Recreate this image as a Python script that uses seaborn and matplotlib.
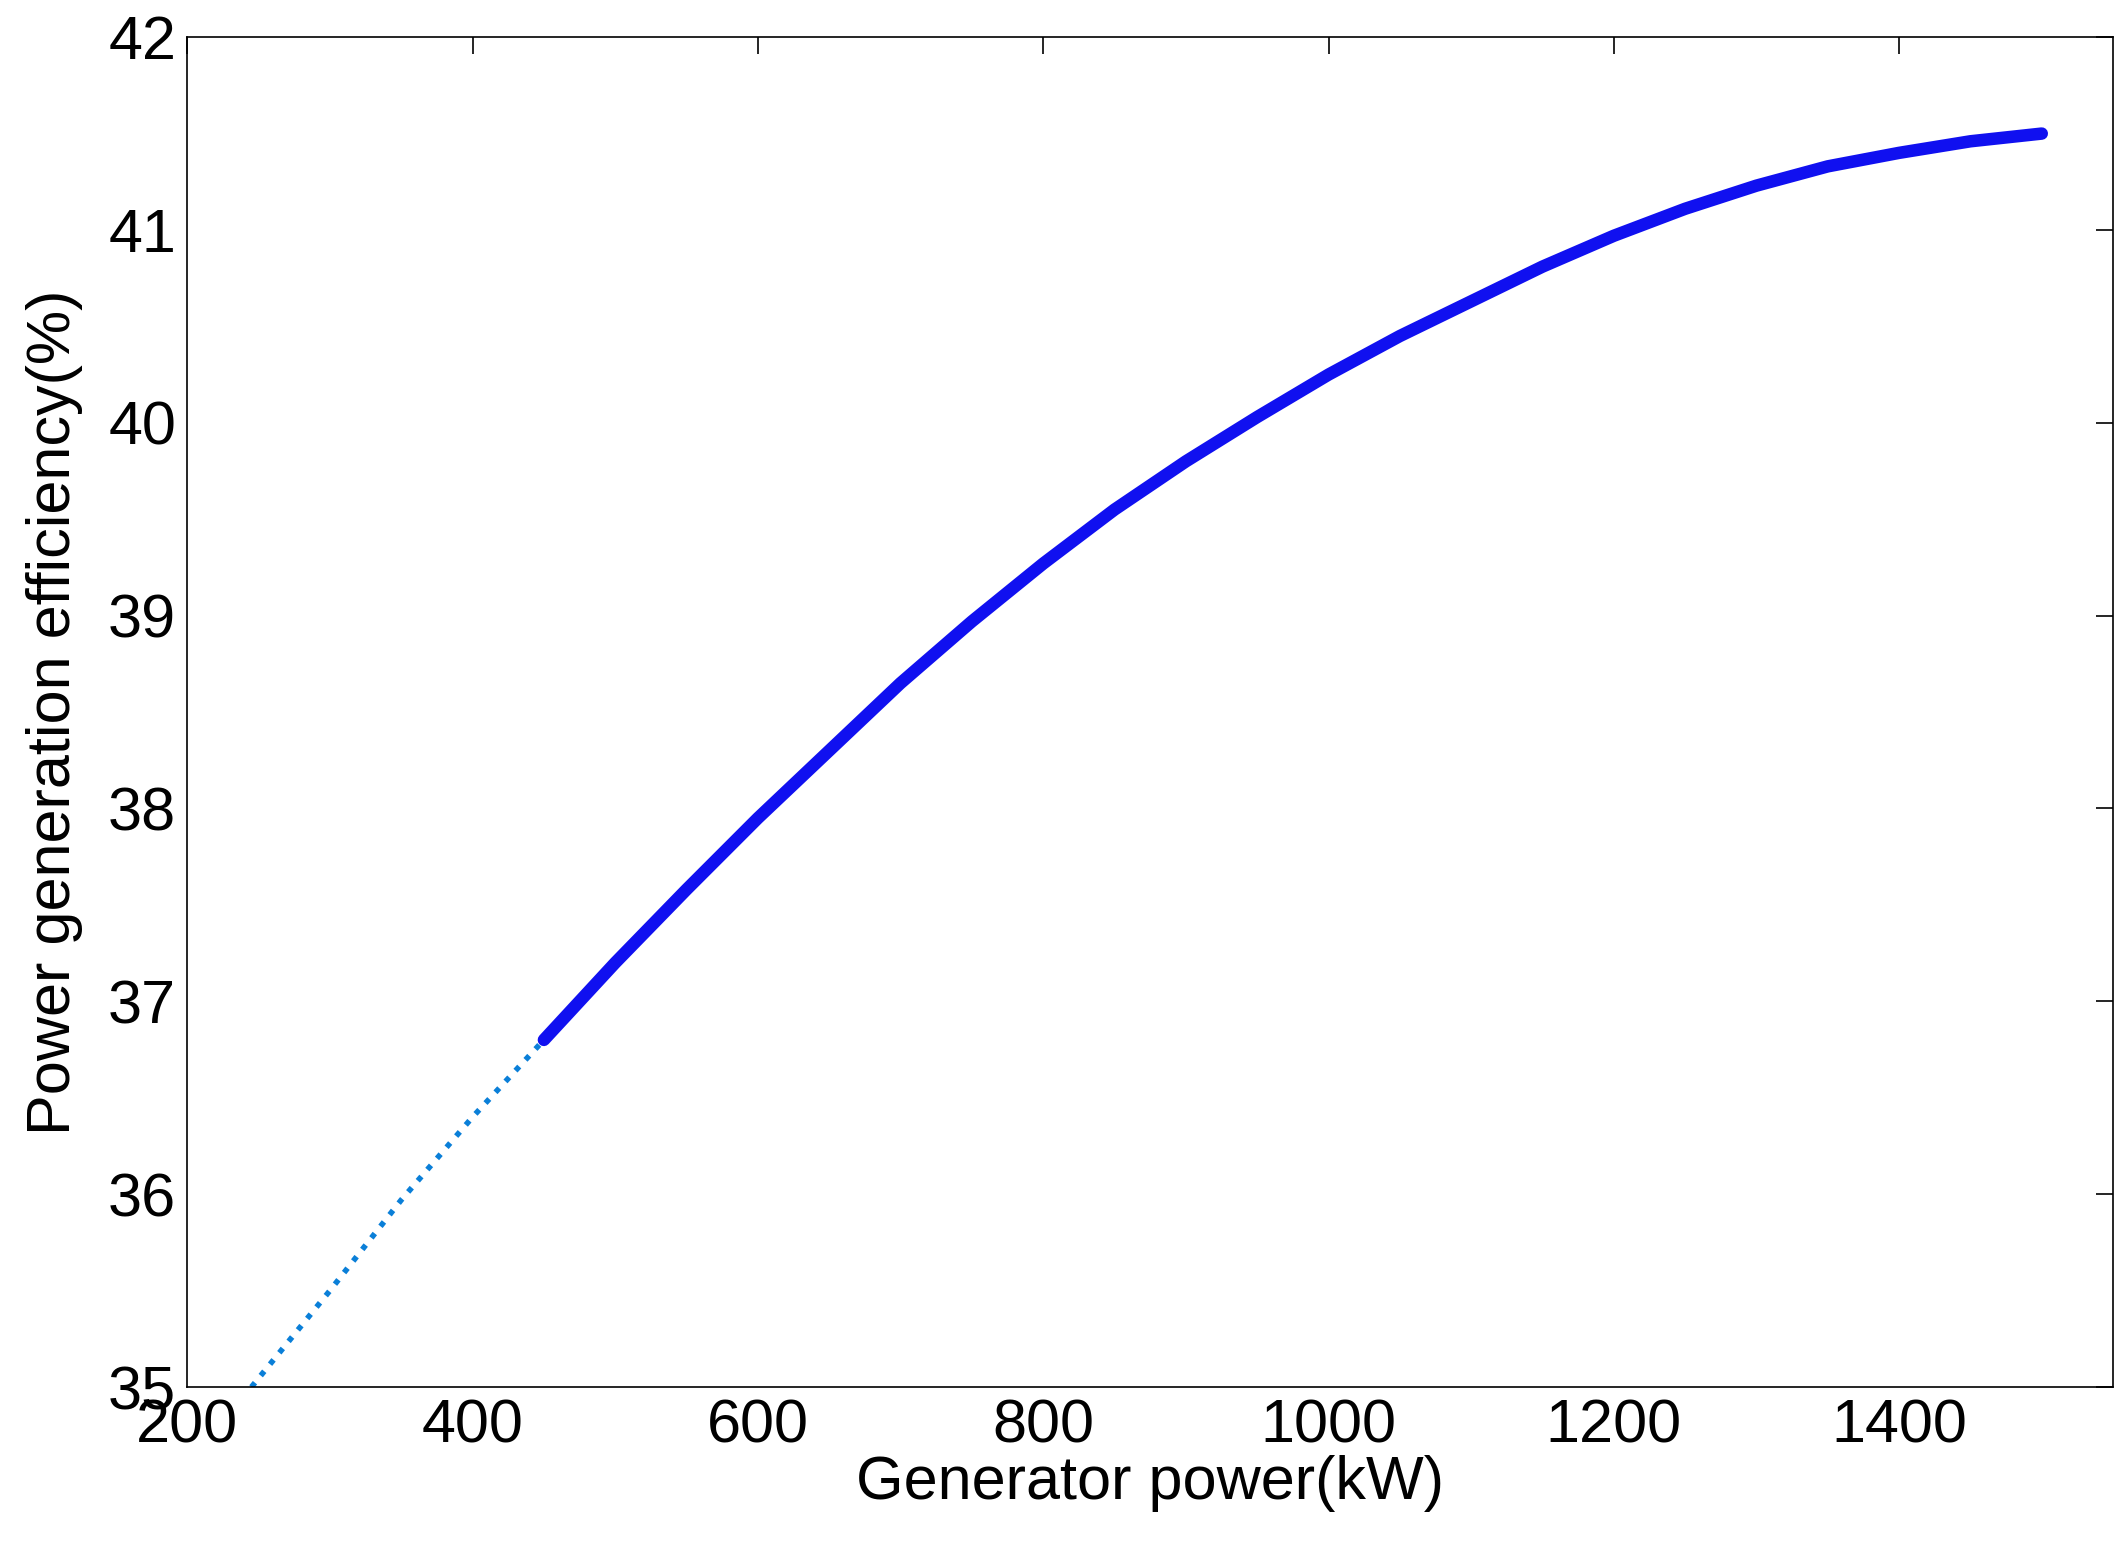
import numpy as np
import pandas as pd
import matplotlib
matplotlib.use("Agg")
import matplotlib.pyplot as plt
import seaborn as sns

# extrapolated (dotted) part
power_low = [245, 300, 350, 400, 450]
eff_low = [35.0, 35.5, 35.97, 36.4, 36.8]

# measured (solid) part
power_high = [450, 500, 550, 600, 650, 700, 750, 800, 850, 900, 950, 1000,
              1050, 1100, 1150, 1200, 1250, 1300, 1350, 1400, 1450, 1500]
eff_high = [36.8, 37.2, 37.58, 37.95, 38.3, 38.65, 38.97, 39.27, 39.55, 39.8, 40.03, 40.25,
            40.45, 40.63, 40.81, 40.97, 41.11, 41.23, 41.33, 41.4, 41.46, 41.5]

sns.set_style("white")
plt.rcParams['font.family'] = ['Liberation Sans', 'DejaVu Sans']
plt.rcParams['text.color'] = 'black'
plt.rcParams['axes.labelcolor'] = 'black'
plt.rcParams['xtick.color'] = 'black'
plt.rcParams['ytick.color'] = 'black'

fig, ax = plt.subplots(figsize=(21.28, 15.48), dpi=100)
fig.subplots_adjust(left=0.088, right=0.993, bottom=0.104, top=0.976)

df_low = pd.DataFrame({"p": power_low, "e": eff_low})
df_high = pd.DataFrame({"p": power_high, "e": eff_high})
sns.lineplot(data=df_low, x="p", y="e", ax=ax, color="#0a7fd8", lw=4, linestyle=":")
sns.lineplot(data=df_high, x="p", y="e", ax=ax, color="#1010f0", lw=9)

ax.set_xlim(200, 1550)
ax.set_ylim(35, 42)
ax.set_xticks(range(200, 1401, 200))
ax.set_yticks(range(35, 43))
ax.set_xlabel("Generator power(kW)", fontsize=44, labelpad=0)
ax.set_ylabel("Power generation efficiency(%)", fontsize=44, labelpad=18)
ax.tick_params(direction="in", length=12, width=1.2, labelsize=44,
               top=True, right=True, pad=8)
for s in ax.spines.values():
    s.set_linewidth(1.2)
    s.set_color("black")

fig.savefig("out.png", dpi=100)
